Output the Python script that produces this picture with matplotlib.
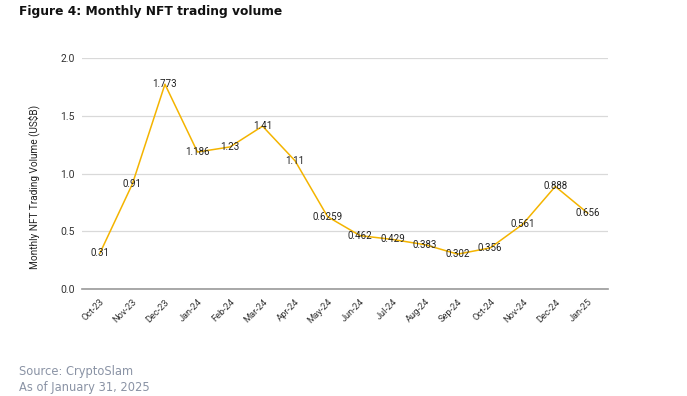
import matplotlib
matplotlib.use("Agg")
import matplotlib.pyplot as plt

months = ["Oct-23", "Nov-23", "Dec-23", "Jan-24", "Feb-24", "Mar-24", "Apr-24", "May-24",
          "Jun-24", "Jul-24", "Aug-24", "Sep-24", "Oct-24", "Nov-24", "Dec-24", "Jan-25"]
volume = [0.31, 0.91, 1.773, 1.186, 1.23, 1.41, 1.11, 0.6259,
          0.462, 0.429, 0.383, 0.302, 0.356, 0.561, 0.888, 0.656]
labels = ["0.31", "0.91", "1.773", "1.186", "1.23", "1.41", "1.11", "0.6259",
          "0.462", "0.429", "0.383", "0.302", "0.356", "0.561", "0.888", "0.656"]
yticks = [0.0, 0.5, 1.0, 1.5, 2.0]

plt.rcParams['font.family'] = ['Roboto', 'DejaVu Sans']

fig = plt.figure(figsize=(6.87, 3.96), dpi=100)
ax = fig.add_axes([82/687, 1-289/396, (608-82)/687, (289-58)/396])

x = list(range(len(months)))
ax.plot(x, volume, color="#F4B400", lw=1.1, zorder=3)
for xi, v, t in zip(x, volume, labels):
    ax.text(xi, v, t, ha="center", va="center", fontsize=7, color="#222222", zorder=4)

ax.set_xlim(-0.55, len(months) - 1 + 0.62)
ax.set_ylim(0, 2.0)
ax.set_yticks(yticks)
ax.set_yticklabels([f"{t:.1f}" for t in yticks], fontsize=7.5, color="#333333")
ax.set_xticks(x)
ax.set_xticklabels(months, rotation=45, ha="right", rotation_mode="anchor",
                   fontsize=6.7, color="#333333")
ax.tick_params(axis="y", length=0, pad=5)
ax.tick_params(axis="x", length=0, pad=6)
ax.grid(axis="y", color="#d9d9d9", lw=0.9, zorder=0)
for s in ["top", "right", "left"]:
    ax.spines[s].set_visible(False)
ax.spines["bottom"].set_color("#999999")
ax.spines["bottom"].set_linewidth(1.2)
ax.set_ylabel("Monthly NFT Trading Volume (US$B)", fontsize=7.2, color="#222222")
ax.yaxis.set_label_coords((40 - 82) / 526, (289 - 187) / 231)

fig.text(19/687, 1-12/396, "Figure 4: Monthly NFT trading volume", fontsize=8.8,
         fontweight="bold", family="DejaVu Sans", color="#111111", ha="left", va="center")
fig.text(19/687, 1-371/396, "Source: CryptoSlam", fontsize=8.3, family="DejaVu Sans",
         color="#8a93a5", ha="left", va="center")
fig.text(19/687, 1-387/396, "As of January 31, 2025", fontsize=8.3, family="DejaVu Sans",
         color="#8a93a5", ha="left", va="center")

fig.savefig("out.png", dpi=100)
